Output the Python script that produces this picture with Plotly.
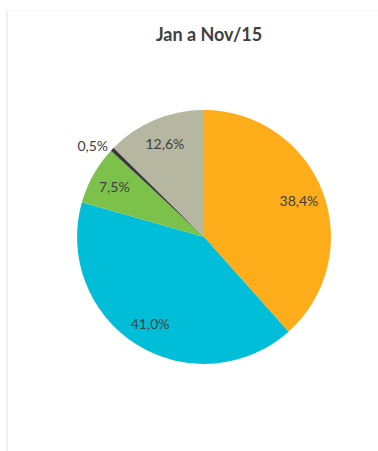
import plotly.graph_objects as go

# share of each group, Jan-Nov 2015
labels = ['A', 'B', 'C', 'D', 'E']
values = [38.4, 41.0, 7.5, 0.5, 12.6]
colors = ['#FDAC1A', '#00BED8', '#7CC24A', '#3A3A3A', '#B5B7A0']
positions = ['inside', 'inside', 'inside', 'outside', 'inside']

pie_domain = dict(x=[0.2037, 0.8757], y=[0.193, 0.756])

fig = go.Figure()
# coloured slices
fig.add_trace(go.Pie(
    labels=labels, values=values, sort=False, direction='clockwise',
    rotation=0, marker=dict(colors=colors, line=dict(width=0)),
    textinfo='none', domain=pie_domain, showlegend=False,
    hoverinfo='label+percent'))
# transparent ring on top just to push the labels outwards like excel does
fig.add_trace(go.Pie(
    labels=labels, values=values, sort=False, direction='clockwise',
    rotation=0, hole=0.6,
    marker=dict(colors=['rgba(0,0,0,0)'] * len(values), line=dict(width=0)),
    texttemplate='%{percent:.1%}', textposition=positions,
    insidetextorientation='horizontal',
    textfont=dict(family='Lato', size=14, color='#404040'),
    domain=pie_domain, showlegend=False, hoverinfo='skip'))

fig.update_layout(
    width=378, height=451, separators=',.',
    margin=dict(l=0, r=0, t=0, b=0),
    paper_bgcolor='white',
    uniformtext=dict(minsize=14, mode='show'),
    title=dict(text='<b>Jan a Nov/15</b>', x=0.553, xanchor='center',
               y=0.923, yanchor='middle',
               font=dict(family='Lato', size=18, color='#404040')),
    shapes=[dict(type='line', xref='paper', yref='paper', x0=0.019, x1=0.019,
                 y0=0, y1=0.976, line=dict(color='#EEEEEE', width=1.5)),
            dict(type='line', xref='paper', yref='paper', x0=0.019, x1=1,
                 y0=0.976, y1=0.976, line=dict(color='#F4F4F4', width=1))])

fig.write_html('out.html', config={'displayModeBar': False},
               post_script="document.body.style.margin='0px';")
